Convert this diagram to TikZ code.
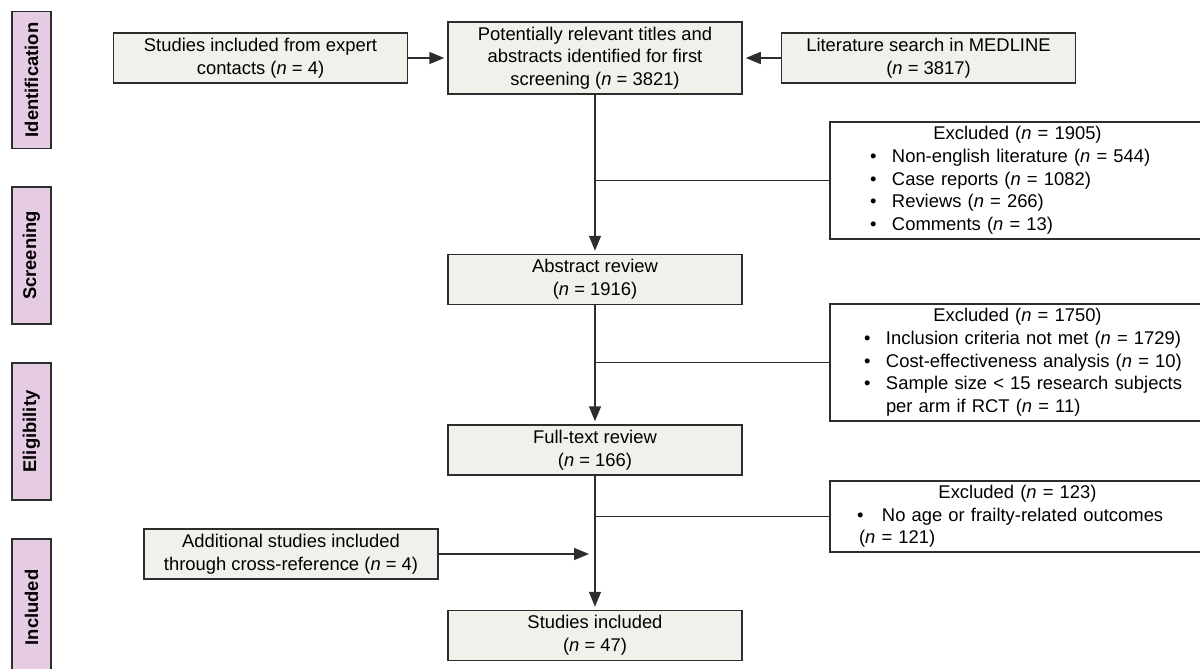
\documentclass[tikz,border=0pt]{standalone}
\usepackage{fontspec}
\setmainfont{Liberation Sans}
\usetikzlibrary{arrows.meta,positioning}
\definecolor{flowfill}{RGB}{240,241,235}
\definecolor{flowline}{RGB}{45,45,45}
\definecolor{phasepink}{RGB}{229,203,227}
\newcommand{\nn}{\textit{n}}
\newcommand{\exitem}[3]{\hspace*{#1}\makebox[#2][l]{\textbullet}#3}

\begin{document}
\begin{tikzpicture}[
    x=0.5pt, y=-0.5pt,
    font=\fontsize{9.2}{11.35}\selectfont,
    box/.style={rectangle, draw=flowline, line width=0.75pt, fill=flowfill, align=center, minimum width=147pt, minimum height=25pt, inner sep=2pt},
    exbox/.style={rectangle, draw=flowline, line width=0.75pt, fill=white, align=left, text width=187.5pt, minimum height=#1, inner xsep=0pt, inner ysep=2pt},
    phase/.style={rectangle, draw=flowline, line width=0.75pt, fill=phasepink, rotate=90, minimum width=68.5pt, minimum height=19.5pt, font=\fontsize{9.2}{11}\selectfont\bfseries},
    arrow/.style={-{Triangle[length=7.5pt,width=6pt]}, line width=0.75pt, flowline, shorten >=1.5pt},
    link/.style={line width=0.75pt, flowline}
]
    \useasboundingbox (0,0) rectangle (1200,669);
    \clip (0,0) rectangle (1200,669);

    % phase labels
    \node[phase] (identification) at (31.5,80) {Identification};
    \node[phase] (screening) at (31.5,255.5) {Screening};
    \node[phase] (eligibility) at (31.5,431.5) {Eligibility};
    \node[phase] (included) at (31.5,607.5) {Included};

    % main column
    \node[box, minimum height=36pt] (titles) at (595,58) {Potentially relevant titles and\\abstracts identified for first\\screening (\nn{} = 3821)};
    \node[box, left=19.5pt of titles] (expert) {Studies included from expert\\contacts (\nn{} = 4)};
    \node[box, right=19pt of titles] (medline) {Literature search in MEDLINE\\(\nn{} = 3817)};
    \node[box, below=79.5pt of titles] (abstract) {Abstract review\\(\nn{} = 1916)};
    \node[box, below=59.5pt of abstract] (fulltext) {Full-text review\\(\nn{} = 166)};
    \node[box, below=67pt of fulltext] (studies) {Studies included\\(\nn{} = 47)};
    \node[box] (crossref) at (291,554) {Additional studies included\\through cross-reference (\nn{} = 4)};

    % exclusions
    \node[exbox=58.5pt] (excl1) at (1017.5,180.5) {\makebox[187.5pt][c]{Excluded (\nn{} = 1905)}\\
        \exitem{20pt}{11pt}{Non-english literature (\nn{} = 544)}\\
        \exitem{20pt}{11pt}{Case reports (\nn{} = 1082)}\\
        \exitem{20pt}{11pt}{Reviews (\nn{} = 266)}\\
        \exitem{20pt}{11pt}{Comments (\nn{} = 13)}};
    \node[exbox=58.5pt] (excl2) at (1017.5,362.5) {\makebox[187.5pt][c]{Excluded (\nn{} = 1750)}\\
        \exitem{17pt}{11pt}{Inclusion criteria not met (\nn{} = 1729)}\\
        \exitem{17pt}{11pt}{Cost-effectiveness analysis (\nn{} = 10)}\\
        \exitem{17pt}{11pt}{Sample size < 15 research subjects}\\
        \hspace*{28pt}per arm if RCT (\nn{} = 11)};
    \node[exbox=35.5pt] (excl3) at (1017.5,516.5) {\makebox[187.5pt][c]{Excluded (\nn{} = 123)}\\
        \exitem{13.5pt}{12.5pt}{No age or frailty-related outcomes}\\
        \hspace*{14.5pt}(\nn{} = 121)};

    \draw[arrow] (expert) -- (titles);
    \draw[arrow] (medline) -- (titles);
    \draw[arrow] (titles) -- (abstract);
    \draw[link] (titles.south |- excl1.west) -- (excl1.west);
    \draw[arrow] (abstract) -- (fulltext);
    \draw[link] (abstract.south |- excl2.west) -- (excl2.west);
    \draw[arrow] (fulltext) -- (studies);
    \draw[link] (fulltext.south |- excl3.west) -- (excl3.west);
    \coordinate (merge) at (fulltext.south |- crossref.east);
    \draw[arrow, shorten >=3pt] (crossref) -- (merge);
\end{tikzpicture}
\end{document}
